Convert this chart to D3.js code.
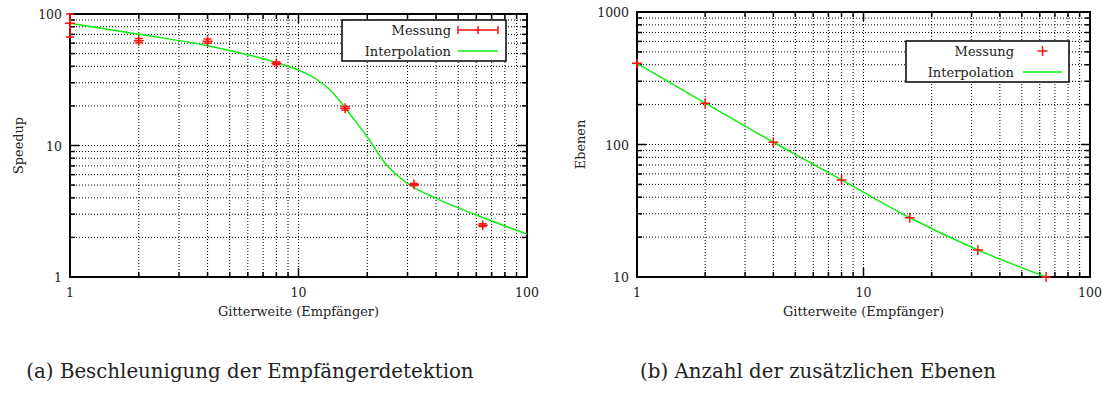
<!DOCTYPE html>
<html>
<head>
<meta charset="utf-8">
<script src="https://cdn.jsdelivr.net/npm/d3@7"></script>
<style>
  body { margin: 0; background: #fff; }
  text { font-family: "DejaVu Serif", serif; fill: #222; }
</style>
</head>
<body>
<script>
// ---- data ----
var gitter = [1, 2, 4, 8, 16, 32, 64];

// (a) speedup, with error range
var speedup    = [85, 62.5, 62, 42.2, 19.2, 5.05, 2.48];
var speedupLo  = [66.8, 60.5, 60, 41.2, 18.6, 4.95, 2.42];
var speedupHi  = [100, 65, 64.5, 43.2, 19.8, 5.15, 2.54];
var interpAX   = [1, 2, 4, 8, 10, 12, 14, 16, 18, 20, 24, 28, 32, 40, 60, 100];
var interpAY   = [85, 70.2, 57.4, 42.7, 37.5, 31.9, 25.6, 19.3, 14.8, 11.6, 7.3, 5.64, 4.81, 3.96, 2.96, 2.12];

// (b) additional layers
var ebenen     = [410, 205, 104, 54, 28, 16, 10];
var interpBX   = [1, 2, 4, 8, 16, 32, 64];
var interpBY   = [410, 205, 104, 54, 28, 16, 10];

var xDomain = [1, 100];
var yDomainA = [1, 100];
var yDomainB = [10, 1000];
var xTickLabels = [1, 10, 100];
var yTickLabelsA = [1, 10, 100];
var yTickLabelsB = [10, 100, 1000];

var red = "#ff1010", green = "#10ee10";

var svg = d3.select("body").append("svg")
  .attr("width", 1109)
  .attr("height", 396);

function drawChart(o) {
  var x = d3.scaleLog().domain(o.xDomain).range([o.left, o.right]),
      y = d3.scaleLog().domain(o.yDomain).range([o.bottom, o.top]);
  var g = svg.append("g");

  // grid (dotted at every tick)
  x.ticks().forEach(function(t) {
    if (t === o.xDomain[0] || t === o.xDomain[1]) return;
    g.append("line").attr("x1", x(t)).attr("x2", x(t)).attr("y1", o.top).attr("y2", o.bottom)
      .attr("stroke", "#000").attr("stroke-width", 1).attr("stroke-dasharray", "1,2");
  });
  y.ticks().forEach(function(t) {
    if (t === o.yDomain[0] || t === o.yDomain[1]) return;
    g.append("line").attr("x1", o.left).attr("x2", o.right).attr("y1", y(t)).attr("y2", y(t))
      .attr("stroke", "#000").attr("stroke-width", 1).attr("stroke-dasharray", "1,2");
  });

  // inner ticks on all four sides
  x.ticks().forEach(function(t) {
    var len = xTickLabels.indexOf(t) >= 0 ? 9 : 5;
    g.append("line").attr("x1", x(t)).attr("x2", x(t)).attr("y1", o.bottom).attr("y2", o.bottom - len)
      .attr("stroke", "#000").attr("stroke-width", 1.5);
    g.append("line").attr("x1", x(t)).attr("x2", x(t)).attr("y1", o.top).attr("y2", o.top + len)
      .attr("stroke", "#000").attr("stroke-width", 1.5);
  });
  y.ticks().forEach(function(t) {
    var len = o.yLabels.indexOf(t) >= 0 ? 9 : 5;
    g.append("line").attr("x1", o.left).attr("x2", o.left + len).attr("y1", y(t)).attr("y2", y(t))
      .attr("stroke", "#000").attr("stroke-width", 1.5);
    g.append("line").attr("x1", o.right).attr("x2", o.right - len).attr("y1", y(t)).attr("y2", y(t))
      .attr("stroke", "#000").attr("stroke-width", 1.5);
  });

  // frame
  g.append("rect").attr("x", o.left).attr("y", o.top)
    .attr("width", o.right - o.left).attr("height", o.bottom - o.top)
    .attr("fill", "none").attr("stroke", "#000").attr("stroke-width", 2);

  // tick labels
  xTickLabels.forEach(function(t) {
    g.append("text").attr("x", x(t)).attr("y", o.bottom + 20)
      .attr("text-anchor", "middle").style("font-size", "12.5px").text(t);
  });
  o.yLabels.forEach(function(t) {
    g.append("text").attr("x", o.left - 8).attr("y", y(t) + 5)
      .attr("text-anchor", "end").style("font-size", "12.5px").text(t);
  });

  // axis titles
  g.append("text").attr("x", (o.left + o.right) / 2).attr("y", o.bottom + 39)
    .attr("text-anchor", "middle").style("font-size", "12.9px").text("Gitterweite (Empfänger)");
  g.append("text")
    .attr("transform", "translate(" + o.yTitleX + "," + (o.top + o.bottom) / 2 + ") rotate(-90)")
    .attr("text-anchor", "middle").style("font-size", "12.9px").text(o.yTitle);

  // interpolation
  var pts = o.ix.map(function(d, i) { return [x(d), y(o.iy[i])]; });
  g.append("path").datum(pts)
    .attr("d", d3.line().curve(d3.curveMonotoneX))
    .attr("fill", "none").attr("stroke", green).attr("stroke-width", 1.5);

  // measurements
  o.mx.forEach(function(d, i) {
    var cx = x(d), cy = y(o.my[i]);
    if (o.lo) {
      var y1 = y(o.lo[i]), y2 = y(o.hi[i]);
      g.append("line").attr("x1", cx).attr("x2", cx).attr("y1", y1).attr("y2", y2)
        .attr("stroke", red).attr("stroke-width", 1.5);
      [y1, y2].forEach(function(yy) {
        g.append("line").attr("x1", cx - 4).attr("x2", cx + 4).attr("y1", yy).attr("y2", yy)
          .attr("stroke", red).attr("stroke-width", 1.5);
      });
    }
    g.append("path")
      .attr("d", "M" + (cx - 5) + "," + cy + "H" + (cx + 5) + "M" + cx + "," + (cy - 5) + "V" + (cy + 5))
      .attr("stroke", red).attr("stroke-width", 1.5);
  });

  // legend
  var L = o.legend;
  g.append("rect").attr("x", L.x).attr("y", L.y).attr("width", L.w).attr("height", L.h)
    .attr("fill", "#fff").attr("stroke", "#000").attr("stroke-width", 1.5);
  g.append("text").attr("x", L.textX).attr("y", L.y + 15).attr("text-anchor", "end")
    .style("font-size", "13px").text("Messung");
  g.append("text").attr("x", L.textX).attr("y", L.y + 36).attr("text-anchor", "end")
    .style("font-size", "13px").text("Interpolation");
  var ly1 = L.y + 10, ly2 = L.y + 31;
  if (o.lo) {
    g.append("path")
      .attr("d", "M" + L.s0 + "," + ly1 + "H" + L.s1 +
                 "M" + L.s0 + "," + (ly1 - 4) + "V" + (ly1 + 4) +
                 "M" + L.s1 + "," + (ly1 - 4) + "V" + (ly1 + 4) +
                 "M" + (L.s0 + L.s1) / 2 + "," + (ly1 - 4) + "V" + (ly1 + 4))
      .attr("fill", "none").attr("stroke", red).attr("stroke-width", 1.5);
  } else {
    var mx = (L.s0 + L.s1) / 2;
    g.append("path")
      .attr("d", "M" + (mx - 5) + "," + ly1 + "H" + (mx + 5) + "M" + mx + "," + (ly1 - 5) + "V" + (ly1 + 5))
      .attr("stroke", red).attr("stroke-width", 1.5);
  }
  g.append("line").attr("x1", L.s0).attr("x2", L.s1).attr("y1", ly2).attr("y2", ly2)
    .attr("stroke", green).attr("stroke-width", 1.5);

  // caption
  g.append("text").attr("x", o.capX).attr("y", 378).attr("text-anchor", "middle")
    .style("font-size", "19.8px").text(o.caption);
}

drawChart({
  left: 70, right: 527, top: 14, bottom: 277,
  xDomain: xDomain, yDomain: yDomainA, yLabels: yTickLabelsA,
  yTitle: "Speedup", yTitleX: 23,
  mx: gitter, my: speedup, lo: speedupLo, hi: speedupHi,
  ix: interpAX, iy: interpAY,
  legend: { x: 342, y: 20, w: 164, h: 41, textX: 451, s0: 458, s1: 498 },
  capX: 250, caption: "(a) Beschleunigung der Empfängerdetektion"
});

drawChart({
  left: 637, right: 1090, top: 12, bottom: 277,
  xDomain: xDomain, yDomain: yDomainB, yLabels: yTickLabelsB,
  yTitle: "Ebenen", yTitleX: 585,
  mx: gitter, my: ebenen,
  ix: interpBX, iy: interpBY,
  legend: { x: 906, y: 41, w: 163, h: 41, textX: 1014, s0: 1023, s1: 1062 },
  capX: 818, caption: "(b) Anzahl der zusätzlichen Ebenen"
});
</script>
</body>
</html>
